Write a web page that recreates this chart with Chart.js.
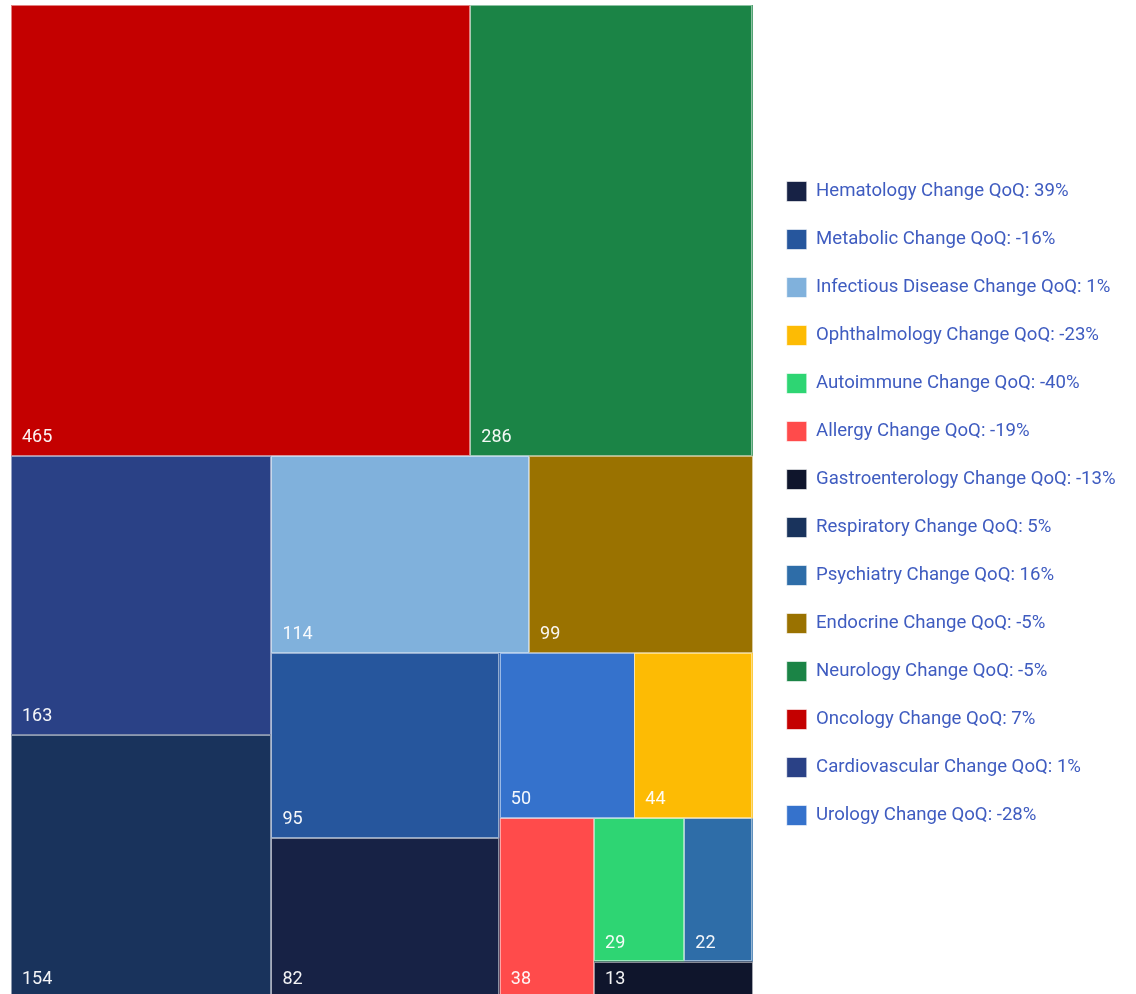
<!DOCTYPE html>
<html>
<head>
<meta charset="utf-8">
<script src="https://cdn.jsdelivr.net/npm/chart.js@4"></script>
<style>
  html, body { margin: 0; padding: 0; background: #fff; overflow: hidden; }
  #wrap { width: 1136px; height: 998px; position: relative; }
</style>
</head>
<body>
<div id="wrap"><canvas id="therapy-treemap"></canvas></div>
<script>
// Therapy areas, volume this quarter and change vs last quarter
var areas = ["Hematology", "Metabolic", "Infectious Disease", "Ophthalmology", "Autoimmune", "Allergy", "Gastroenterology", "Respiratory", "Psychiatry", "Endocrine", "Neurology", "Oncology", "Cardiovascular", "Urology"];
var volumes = [82, 95, 114, 44, 29, 38, 13, 154, 22, 99, 286, 465, 163, 50];
var changeQoQ = [39, -16, 1, -23, -40, -19, -13, 5, 16, -5, -5, 7, 1, -28];
var colors = ["#172245", "#26569d", "#80b1dc", "#fdbb04", "#2ed573", "#ff4b4b", "#0f152c", "#19335c", "#2e6da8", "#9a7200", "#1b8446", "#c40000", "#2a4186", "#3572cc"];

// squarified treemap layout, returns rects in 0..1 units.
// squareRatio > 1 lets rows grow a little longer before they are cut
var squareRatio = 1.047;

function worst(row, side) {
    var s = 0, max = 0, min = Infinity;
    row.forEach(function (r) { s += r.area; max = Math.max(max, r.area); min = Math.min(min, r.area); });
    var f = side * side * squareRatio;
    return Math.max(f * max / (s * s), (s * s) / (f * min));
}

function squarify(values, w, h) {
    var total = values.reduce(function (a, b) { return a + b; }, 0);
    var items = values.map(function (v, i) { return { index: i, value: v, area: v / total * w * h }; })
        .sort(function (a, b) { return b.value - a.value; });
    var rect = { x: 0, y: 0, w: w, h: h };
    var out = [];
    while (items.length) {
        var side = Math.min(rect.w, rect.h);
        var row = [items[0]];
        var i = 1;
        while (i < items.length && worst(row.concat([items[i]]), side) <= worst(row, side)) {
            row.push(items[i]);
            i++;
        }
        items = items.slice(i);
        var s = row.reduce(function (a, r) { return a + r.area; }, 0);
        if (rect.w <= rect.h) {
            var th = s / rect.w, cx = rect.x;
            row.forEach(function (r) {
                var rw = r.area / th;
                out.push({ index: r.index, x0: cx, y0: rect.y, x1: cx + rw, y1: rect.y + th });
                cx += rw;
            });
            rect.y += th; rect.h -= th;
        } else {
            var tw = s / rect.h, cy = rect.y;
            row.forEach(function (r) {
                var rh = r.area / tw;
                out.push({ index: r.index, x0: rect.x, y0: cy, x1: rect.x + tw, y1: cy + rh });
                cy += rh;
            });
            rect.x += tw; rect.w -= tw;
        }
    }
    return out.map(function (c) {
        return { index: c.index, x0: c.x0 / w, x1: c.x1 / w, y0: c.y0 / h, y1: c.y1 / h };
    });
}

var treemapPlugin = {
    id: 'treemapCells',
    afterDatasetsDraw: function (chart) {
        var ctx = chart.ctx, area = chart.chartArea;
        var xs = chart.scales.x, ys = chart.scales.y;
        var cells = squarify(volumes, area.right - area.left, area.bottom - area.top);
        ctx.save();
        cells.forEach(function (c) {
            var l = xs.getPixelForValue(c.x0), r = xs.getPixelForValue(c.x1);
            var t = ys.getPixelForValue(c.y0), b = ys.getPixelForValue(c.y1);
            ctx.fillStyle = colors[c.index];
            ctx.fillRect(l, t, r - l, b - t);
            ctx.strokeStyle = 'rgba(255,255,255,0.5)';
            ctx.lineWidth = 1;
            ctx.strokeRect(Math.round(l) + 0.5, Math.round(t) + 0.5, Math.round(r - l) - 1, Math.round(b - t) - 1);
            ctx.fillStyle = 'rgba(255,255,255,0.95)';
            ctx.font = '18px Roboto';
            ctx.textAlign = 'left';
            ctx.textBaseline = 'alphabetic';
            ctx.fillText(String(volumes[c.index]), l + 11, b - 14);
        });
        ctx.restore();
    }
};

// a bit more white space between the map and the legend
var legendGap = 6;
var legendGapPlugin = {
    id: 'legendGap',
    beforeLayout: function (chart) {
        var legend = chart.legend;
        if (legend && !legend._gapPatched) {
            var fit = legend.fit;
            legend.fit = function () { fit.call(this); this.width += legendGap; };
            legend._gapPatched = true;
        }
    },
    afterLayout: function (chart) {
        if (chart.legend) {
            chart.legend.left += legendGap;
            chart.legend.top += 4;
        }
    }
};

var ctx = document.getElementById('therapy-treemap').getContext('2d');
var chart = new Chart(ctx, {
    type: 'scatter',
    data: {
        datasets: areas.map(function (name, i) {
            return {
                label: name + ' Change QoQ: ' + changeQoQ[i] + '%',
                data: [],
                backgroundColor: colors[i],
                borderColor: 'rgba(255,255,255,0.6)',
                borderWidth: 1
            };
        })
    },
    options: {
        responsive: true,
        maintainAspectRatio: false,
        animation: false,
        layout: {
            padding: { left: 11, top: 5, right: 10.4, bottom: 0 }
        },
        scales: {
            x: { type: 'linear', min: 0, max: 1, display: false },
            y: { type: 'linear', min: 0, max: 1, reverse: true, display: false }
        },
        plugins: {
            tooltip: { enabled: false },
            legend: {
                position: 'right',
                labels: {
                    font: { family: 'Roboto', size: 18.6 },
                    color: '#3f5cc0',
                    boxWidth: 20,
                    boxHeight: 20,
                    padding: 28
                }
            }
        }
    },
    plugins: [treemapPlugin, legendGapPlugin]
});
</script>
</body>
</html>
